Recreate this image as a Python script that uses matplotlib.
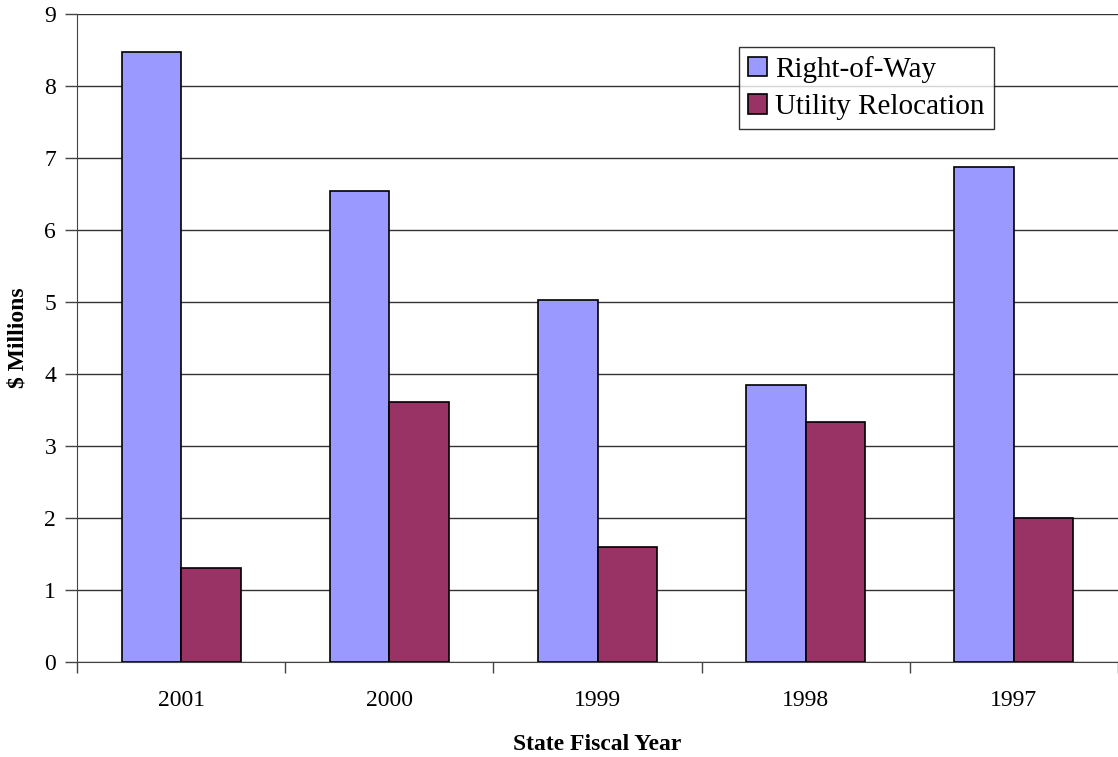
import numpy as np
import matplotlib.pyplot as plt

years = ['2001', '2000', '1999', '1998', '1997']
right_of_way = [8.47, 6.54, 5.03, 3.85, 6.88]
utility_reloc = [1.31, 3.61, 1.60, 3.33, 2.00]

plt.rcParams['font.family'] = ['Liberation Serif', 'DejaVu Serif']

fig = plt.figure(figsize=(11.18, 7.57), dpi=100)
ax = fig.add_axes([77/1118, 1 - 662/757, 1 - 77/1118, (662 - 14)/757])

x = np.arange(len(years))
w = 60/210
ax.bar(x - w/2, right_of_way, w, color='#9999FF', edgecolor='black', linewidth=1.2, label='Right-of-Way', zorder=3)
ax.bar(x + w/2, utility_reloc, w, color='#993366', edgecolor='black', linewidth=1.2, label='Utility Relocation', zorder=3)

ax.set_ylim(0, 9)
ax.set_yticks(range(10))
ax.set_xlim(-0.5, -0.5 + 1041/210)
ax.set_xticks(x)
ax.set_xticklabels(years)
ax.set_xticks(np.arange(-0.5, 5, 1), minor=True)
ax.tick_params(axis='x', which='major', length=0, pad=20, labelsize=17)
ax.tick_params(axis='x', which='minor', length=8, width=1, color='#444444')
ax.tick_params(axis='y', length=9, width=1, color='#444444', labelsize=17, pad=6)

ax.yaxis.grid(True, color='#333333', linewidth=1, zorder=0)
for s in ['top', 'right']:
    ax.spines[s].set_visible(False)
ax.spines['left'].set_color('#444444')
ax.spines['bottom'].set_color('#444444')

ax.set_ylabel('$ Millions', fontsize=17, fontweight='bold')
ax.set_xlabel('State Fiscal Year', fontsize=17, fontweight='bold')
ax.yaxis.set_label_coords((18 - 77)/1041, (662 - 338)/648)
ax.xaxis.set_label_coords((597 - 77)/1041, -(745 - 662)/648)
ax.xaxis.label.set_va('center')
ax.yaxis.label.set_va('center')

leg = ax.legend(loc='upper left', bbox_to_anchor=((739 - 77)/1041, 1 - (47 - 14)/648),
                fontsize=21, frameon=True, fancybox=False, edgecolor='black',
                handlelength=0.65, handleheight=0.65, handletextpad=0.3,
                borderpad=0.3, labelspacing=0.4, borderaxespad=0)
leg.get_frame().set_linewidth(1)

plt.savefig('out.png', dpi=100)
